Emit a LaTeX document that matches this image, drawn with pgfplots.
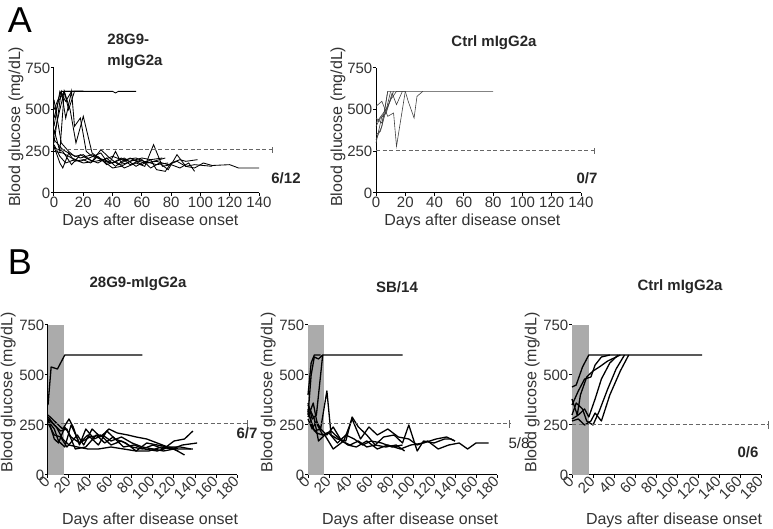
\documentclass[border=0pt]{standalone}
\usepackage{pgfplots}
\pgfplotsset{compat=1.18}
\usepackage{fontspec}
\setmainfont{Liberation Sans}
\pgfplotsset{
  base/.style={scale only axis, anchor=south west,
    axis x line*=bottom, axis y line*=left,
    axis line style={line width=1pt,-},
    tick align=outside, major tick length=3pt,
    tick style={line width=1pt,black},
    ymin=0, ymax=750, ytick={0,250,500,750}, xmin=0,
    clip=false,
    /pgf/number format/assume math mode=true,
    ticklabel style={font=\fontsize{15}{17}\selectfont, text=black!80},
    label style={font=\fontsize{16}{18}\selectfont, text=black!80},
    yticklabel style={inner sep=0.5pt},
    xticklabel style={inner sep=1pt},
    xlabel={Days after disease onset},
    ylabel={Blood glucose (mg/dL)},
  },
  panelA/.style={base, width=205pt, height=125pt, xmax=140, xtick={0,20,...,140},
    ylabel style={at={(axis description cs:-0.185,0.53)}, anchor=center},
    xlabel style={at={(axis description cs:0.47,-0.23)}, anchor=center}},
  panelB/.style={base, width=189pt, height=150pt, xmax=180, xtick={0,20,...,180},
    xticklabel style={rotate=45, anchor=east, inner sep=1pt},
    ylabel style={at={(axis description cs:-0.21,0.55)}, anchor=center},
    xlabel style={at={(axis description cs:0.54,-0.30)}, anchor=center}},
  mA/.style={black, solid, line width=0.85pt, mark=none},
  mC/.style={black!75, solid, line width=0.6pt, mark=none},
  mB/.style={black, solid, line width=1.3pt, mark=none, line join=round},
  dashline/.style={dashed, dash pattern=on 4pt off 2.5pt, line width=1pt, black!60, mark=none},
  tickline/.style={line width=1pt, black!60, mark=none},
  band/.style={fill=black!33, draw=none, mark=none},
}
\begin{document}
\begin{tikzpicture}
\useasboundingbox (0,0) rectangle (773pt,529pt);
% ---------------- A1 ----------------
\begin{axis}[panelA, at={(54pt,336pt)}]
\addplot[mA] coordinates {(0,350)(4,500)(7,610)(14,610)(20,610)(40,610)(42,600)(44,610)(56,610)};
\addplot[mA] coordinates {(0,300)(5,610)(10,610)(20,610)};
\addplot[mA] coordinates {(0,450)(3,550)(7,610)(10,500)(14,610)(20,610)};
\addplot[mA] coordinates {(0,500)(5,610)(8,450)(12,610)(14,400)(18,450)(22,250)(26,220)(34,200)(40,180)(48,210)(56,160)(62,190)(70,170)(78,180)};
\addplot[mA] coordinates {(0,380)(4,250)(7,610)(11,500)(15,300)(20,460)(26,240)(32,200)(38,180)(42,250)(46,180)(52,210)(60,170)(66,200)(74,210)};
\addplot[mA] coordinates {(0,280)(4,180)(6,150)(10,240)(14,190)(20,200)(25,180)(30,220)(36,170)(42,190)(48,150)(56,180)(62,160)(68,290)(74,160)(80,170)(86,150)(92,180)(96,130)};
\addplot[mA] coordinates {(0,250)(6,240)(12,210)(18,190)(24,210)(32,240)(36,190)(40,180)(46,210)(52,170)(60,200)(66,150)(72,180)(78,140)(84,230)(90,160)(96,150)(102,180)(108,165)(120,170)(126,150)(140,150)};
\addplot[mA] coordinates {(0,320)(6,260)(12,230)(18,210)(26,230)(34,190)(40,150)(46,160)(54,200)(62,180)(70,190)(78,170)(84,190)(90,160)(96,170)(108,160)};
\addplot[mA] coordinates {(0,290)(4,220)(8,180)(14,200)(20,180)(28,190)(34,200)(40,220)(46,200)(52,190)(60,210)(66,200)(70,140)(76,130)(80,180)(86,200)(90,190)(98,200)};
\addplot[mA] coordinates {(0,560)(5,300)(10,250)(14,220)(20,230)(26,190)(32,260)(38,210)(44,170)(50,180)};
\addplot[mA] coordinates {(0,400)(4,610)(8,550)(12,610)(16,610)(20,610)};
\addplot[mA] coordinates {(0,270)(6,250)(12,170)(18,230)(24,200)(30,180)(36,210)(42,160)(48,200)(56,210)(64,180)(72,200)(76,210)};
\addplot[dashline] coordinates {(0,258)(149,258)};
\addplot[tickline] coordinates {(149,240)(149,276)};
\end{axis}
% ---------------- A2 ----------------
\begin{axis}[panelA, at={(376pt,336pt)}]
\addplot[mC] coordinates {(0,320)(4,400)(8,610)(80,610)};
\addplot[mC] coordinates {(0,350)(3,370)(7,500)(10,610)};
\addplot[mC] coordinates {(0,420)(5,480)(8,520)(10,560)(12,610)};
\addplot[mC] coordinates {(0,520)(4,550)(8,460)(12,480)(14,280)(18,500)(20,610)};
\addplot[mC] coordinates {(0,300)(4,460)(7,480)(11,600)(14,530)(18,610)};
\addplot[mC] coordinates {(0,400)(3,450)(6,470)(10,560)(14,610)(20,610)(22,550)(26,450)(28,580)(32,610)};
\addplot[mC] coordinates {(0,450)(4,420)(6,500)(8,610)};
\addplot[dashline] coordinates {(0,252)(149,252)};
\addplot[tickline] coordinates {(149,234)(149,270)};
\end{axis}
% ---------------- B1 ----------------
\begin{axis}[panelB, at={(48pt,54pt)}]
\addplot[band] coordinates {(0,0)(15,0)(15,750)(0,750)} -- cycle;
\addplot[mB] coordinates {(0,350)(3,540)(9,530)(16,600)(90,600)};
\addplot[mB] coordinates {(0,300)(4,280)(8,260)(14,230)(20,280)(24,240)(30,150)(36,230)(44,180)(52,200)(60,170)(70,190)(80,160)(90,140)(100,130)(110,120)(120,130)(130,100)};
\addplot[mB] coordinates {(0,280)(6,180)(10,160)(16,240)(22,190)(30,160)(38,200)(48,150)(56,220)(64,180)(74,160)(84,120)(94,160)(104,150)(114,140)(124,130)(138,130)};
\addplot[mB] coordinates {(0,270)(6,230)(10,170)(16,140)(22,250)(30,160)(40,190)(50,200)(60,150)(70,170)(80,140)(90,130)(100,150)(110,130)(120,170)(130,180)(138,220)};
\addplot[mB] coordinates {(0,290)(6,250)(12,220)(18,230)(26,130)(36,140)(46,200)(54,160)(62,190)(72,140)(82,150)(92,130)(104,120)(116,140)(126,140)(136,130)};
\addplot[mB] coordinates {(0,260)(6,200)(12,190)(18,140)(28,200)(34,150)(42,230)(50,190)(58,230)(66,210)(76,200)(84,190)(94,180)(104,160)(114,140)(124,120)};
\addplot[mB] coordinates {(0,280)(8,240)(14,180)(20,150)(28,140)(38,130)(48,130)(60,140)(72,130)(84,120)(96,120)(108,140)(118,130)(128,150)(142,160)};
\addplot[dashline] coordinates {(0,255)(190,255)};
\addplot[tickline] coordinates {(190,237)(190,273)};
\end{axis}
% ---------------- B2 ----------------
\begin{axis}[panelB, at={(308pt,54pt)}]
\addplot[band] coordinates {(0,0)(15,0)(15,750)(0,750)} -- cycle;
\addplot[mB] coordinates {(0,300)(3,500)(6,590)(10,580)(14,600)(90,600)};
\addplot[mB] coordinates {(0,400)(3,560)(6,600)(12,600)};
\addplot[mB] coordinates {(0,360)(4,280)(8,300)(14,600)};
\addplot[mB] coordinates {(0,280)(4,230)(8,270)(12,230)(18,420)(22,200)(28,180)(36,170)(42,290)(48,240)(56,200)(64,150)(72,190)(82,200)(90,160)(96,250)(104,120)(110,170)(120,160)(130,180)(136,180)(140,170)};
\addplot[mB] coordinates {(0,350)(6,280)(10,170)(16,200)(24,130)(34,170)(42,280)(50,180)(58,240)(66,200)(76,230)(86,190)(96,180)(104,150)(114,170)(124,130)(134,150)(144,160)(152,130)(160,160)(172,160)};
\addplot[mB] coordinates {(0,320)(6,220)(12,230)(18,200)(24,240)(32,170)(40,150)(48,170)(56,140)(64,150)(74,140)(84,150)(92,120)};
\addplot[mB] coordinates {(0,330)(4,240)(8,210)(14,200)(22,220)(30,180)(38,150)(46,140)(56,170)(66,130)(76,150)(88,130)(98,150)(110,160)(122,180)(132,190)(140,170)};
\addplot[mB] coordinates {(0,290)(5,360)(9,250)(14,200)(20,210)(28,160)(36,200)(44,180)(52,150)(60,170)(70,160)(80,140)(90,150)};
\addplot[dashline] coordinates {(0,255)(192,255)};
\addplot[tickline] coordinates {(192,237)(192,273)};
\end{axis}
% ---------------- B3 ----------------
\begin{axis}[panelB, at={(572pt,54pt)}]
\addplot[band] coordinates {(0,0)(16,0)(16,750)(0,750)} -- cycle;
\addplot[mB] coordinates {(0,440)(4,450)(10,540)(16,600)(124,600)};
\addplot[mB] coordinates {(0,350)(6,420)(12,480)(18,490)(22,550)(28,590)(36,600)};
\addplot[mB] coordinates {(0,380)(5,300)(8,400)(14,490)(20,520)(26,540)(34,570)(42,590)(46,600)};
\addplot[mB] coordinates {(0,280)(6,300)(12,330)(16,290)(22,380)(28,480)(36,560)(44,600)};
\addplot[mB] coordinates {(0,300)(4,360)(10,330)(14,270)(20,250)(26,320)(34,430)(42,530)(50,600)};
\addplot[mB] coordinates {(0,270)(6,280)(12,250)(18,270)(22,310)(28,270)(36,400)(46,520)(54,600)};
\addplot[dashline] coordinates {(0,250)(187,250)};
\addplot[tickline] coordinates {(187,232)(187,268)};
\end{axis}
% ---------------- texts ----------------
\node[font=\fontsize{36}{40}\selectfont] at (20pt,509pt) {A};
\node[font=\fontsize{36}{40}\selectfont] at (20pt,267pt) {B};
\node[font=\bfseries\fontsize{15}{21}\selectfont, align=left, text=black!85] at (135pt,478pt) {28G9-\\mIgG2a};
\node[font=\bfseries\fontsize{15}{18}\selectfont, text=black!85] at (494pt,486pt) {Ctrl mIgG2a};
\node[font=\bfseries\fontsize{15}{18}\selectfont, text=black!85] at (138pt,245pt) {28G9-mIgG2a};
\node[font=\bfseries\fontsize{15}{18}\selectfont, text=black!85] at (397pt,242pt) {SB/14};
\node[font=\bfseries\fontsize{15}{18}\selectfont, text=black!85] at (680pt,242pt) {Ctrl mIgG2a};
\node[font=\bfseries\fontsize{15}{18}\selectfont, text=black!85] at (286pt,351pt) {6/12};
\node[font=\bfseries\fontsize{15}{18}\selectfont, text=black!85] at (587pt,351pt) {0/7};
\node[font=\bfseries\fontsize{15}{18}\selectfont, text=black!85] at (247pt,96pt) {6/7};
\node[font=\fontsize{15}{18}\selectfont, text=black!85] at (519pt,86pt) {5/8};
\node[font=\bfseries\fontsize{15}{18}\selectfont, text=black!85] at (748pt,77pt) {0/6};
\end{tikzpicture}
\end{document}
